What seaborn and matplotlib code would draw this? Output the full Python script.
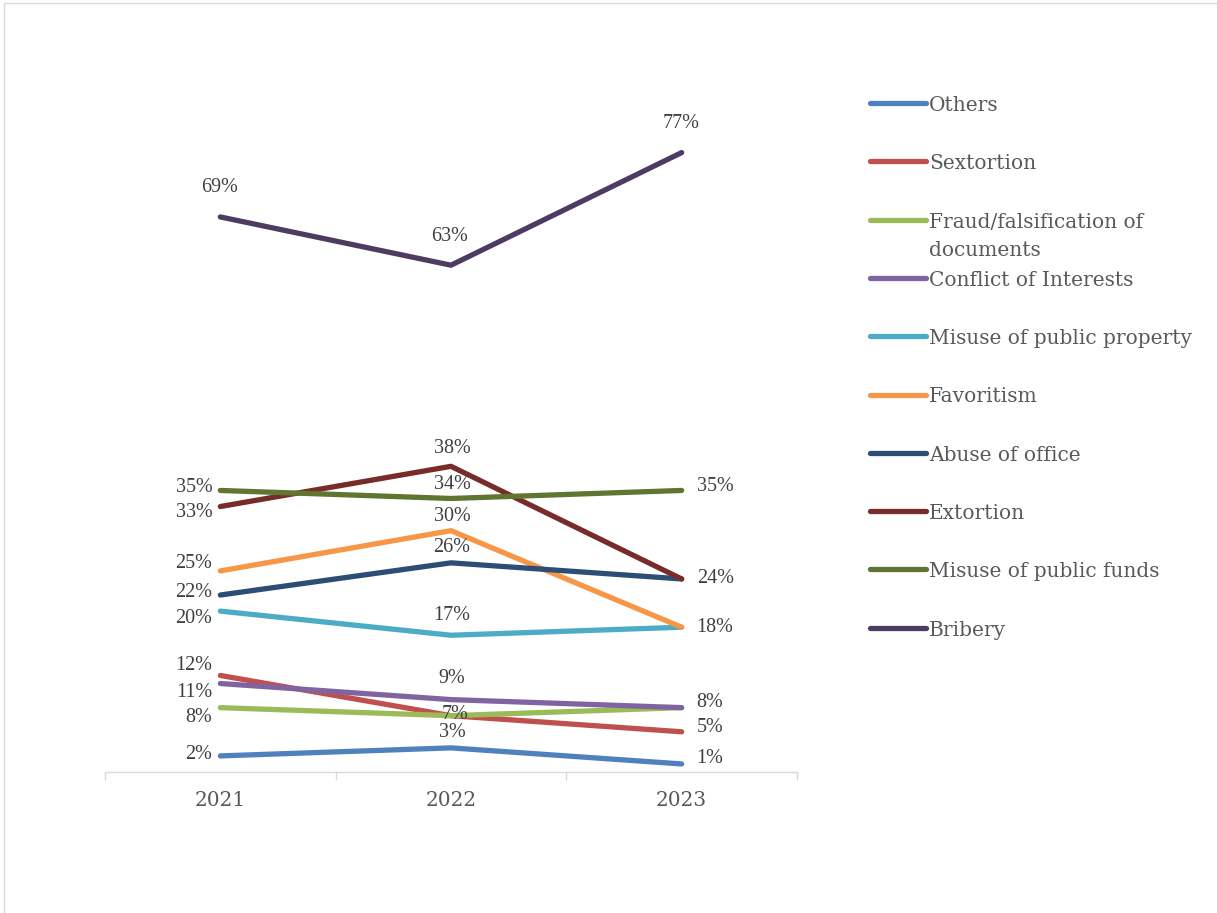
import matplotlib
matplotlib.use("Agg")
import matplotlib.pyplot as plt
from matplotlib.lines import Line2D
import pandas as pd
import seaborn as sns

# ---- data -------------------------------------------------------------
years = ["2021", "2022", "2023"]

others = [2, 3, 1]
sextortion = [12, 7, 5]
fraud = [8, 7, 8]
conflict = [11, 9, 8]
public_property = [20, 17, 18]
favoritism = [25, 30, 18]
abuse_of_office = [22, 26, 24]
extortion = [33, 38, 24]
public_funds = [35, 34, 35]
bribery = [69, 63, 77]

series_names = [
    "Others",
    "Sextortion",
    "Fraud/falsification of documents",
    "Conflict of Interests",
    "Misuse of public property",
    "Favoritism",
    "Abuse of office",
    "Extortion",
    "Misuse of public funds",
    "Bribery",
]
series_values = [
    others, sextortion, fraud, conflict, public_property,
    favoritism, abuse_of_office, extortion, public_funds, bribery,
]
legend_lines = {
    "Fraud/falsification of documents": ["Fraud/falsification of", "documents"],
}

# ---- styling ----------------------------------------------------------
colors = ["#4F81BD", "#C0504D", "#9BBB59", "#8064A2", "#4BACC6",
          "#F79646", "#2C4D75", "#772C2A", "#5F7530", "#4D3B62"]
palette = dict(zip(series_names, colors))

# data-label placement per series and year: (dx px, dy px, horizontal align)
L, A, R, C = "right", "center", "left", "center"
label_style = {
    "Others":                           [(-8, 1, L), (1, 15, A), (15, 5, R)],
    "Sextortion":                       [(-8, 10, L), (4, 1, C), (15, 4, R)],
    "Fraud/falsification of documents": [(-8, -10, L), (4, 1, C), (15, 5, R)],
    "Conflict of Interests":            [(-8, -9, L), (1, 21, A), (15, 5, R)],
    "Misuse of public property":        [(-8, -7, L), (1, 20, A), (15, 0, R)],
    "Favoritism":                       [(-8, 7, L), (1, 14, A), (15, 0, R)],
    "Abuse of office":                  [(-8, 3, L), (1, 15, A), (15, 0, R)],
    "Extortion":                        [(-8, -6, L), (1, 18, A), (15, 0, R)],
    "Misuse of public funds":           [(-8, 3, L), (1, 14, A), (15, 4, R)],
    "Bribery":                          [(-1, 29, A), (-1, 29, A), (-1, 29, A)],
}

sns.set_theme(style="white")
plt.rcParams["font.family"] = ["Liberation Serif", "DejaVu Serif"]

W, H = 1217, 913
fig = plt.figure(figsize=(W / 100, H / 100), dpi=100)
fig.patch.set_facecolor("white")

# plot area in pixel terms: x 105..797, y 48..772
ax = fig.add_axes([105 / W, 1 - 772 / H, (797 - 105) / W, (772 - 48) / H])

rows = []
for name, vals in zip(series_names, series_values):
    for i, (yr, v) in enumerate(zip(years, vals)):
        rows.append({"category": name, "year": yr, "pos": i, "value": v})
df = pd.DataFrame(rows)

sns.lineplot(
    data=df, x="pos", y="value", hue="category", hue_order=series_names,
    palette=palette, linewidth=3.8, sort=False, legend=False, ax=ax,
    solid_capstyle="round", solid_joinstyle="round",
)

# data labels (one label where several series share the same spot)
placed = set()
for name, vals in zip(series_names, series_values):
    for i, v in enumerate(vals):
        dx, dy, ha = label_style[name][i]
        key = (i, v, dx, dy)
        if key in placed:
            continue
        placed.add(key)
        ax.annotate(f"{v}%", xy=(i, v), xytext=(dx, dy),
                    textcoords="offset pixels", ha=ha, va="center",
                    fontsize=14.5, color="#404040")

# axes
ax.set_xlim(-0.5, len(years) - 0.5)
ax.set_ylim(0, 90)
ax.set_xlabel("")
ax.set_ylabel("")
ax.set_yticks([])
ax.set_xticks(range(len(years)))
ax.set_xticklabels(years, family="DejaVu Serif")
ax.set_xticks([i - 0.5 for i in range(len(years) + 1)], minor=True)
ax.tick_params(axis="x", which="major", bottom=False, length=0, pad=14,
               labelsize=14.5, labelcolor="#595959")
ax.tick_params(axis="x", which="minor", bottom=True, length=6, width=1,
               color="#D9D9D9", direction="out")
for side in ("left", "top", "right"):
    ax.spines[side].set_visible(False)
ax.spines["bottom"].set_color("#D9D9D9")
ax.spines["bottom"].set_linewidth(1)
ax.grid(False)
ax.set_facecolor("none")

# legend on the right
y0, step = 103, 58.3
for k, name in enumerate(series_names):
    yc = y0 + k * step
    fig.add_artist(Line2D([870 / W, 926 / W], [1 - yc / H, 1 - yc / H],
                          transform=fig.transFigure, color=palette[name],
                          lw=3.8, solid_capstyle="round"))
    for j, line in enumerate(legend_lines.get(name, [name])):
        fig.text(929 / W, 1 - (yc + 8 + j * 28) / H, line,
                 ha="left", va="baseline", fontsize=14.5,
                 family="DejaVu Serif", color="#595959")

# chart frame
fig.add_artist(Line2D([3.5 / W, 3.5 / W], [0, 1 - 3.5 / H],
                      transform=fig.transFigure, color="#D9D9D9", lw=1))
fig.add_artist(Line2D([3.5 / W, 1], [1 - 3.5 / H, 1 - 3.5 / H],
                      transform=fig.transFigure, color="#D9D9D9", lw=1))

fig.savefig("out.png", dpi=100, facecolor="white")
